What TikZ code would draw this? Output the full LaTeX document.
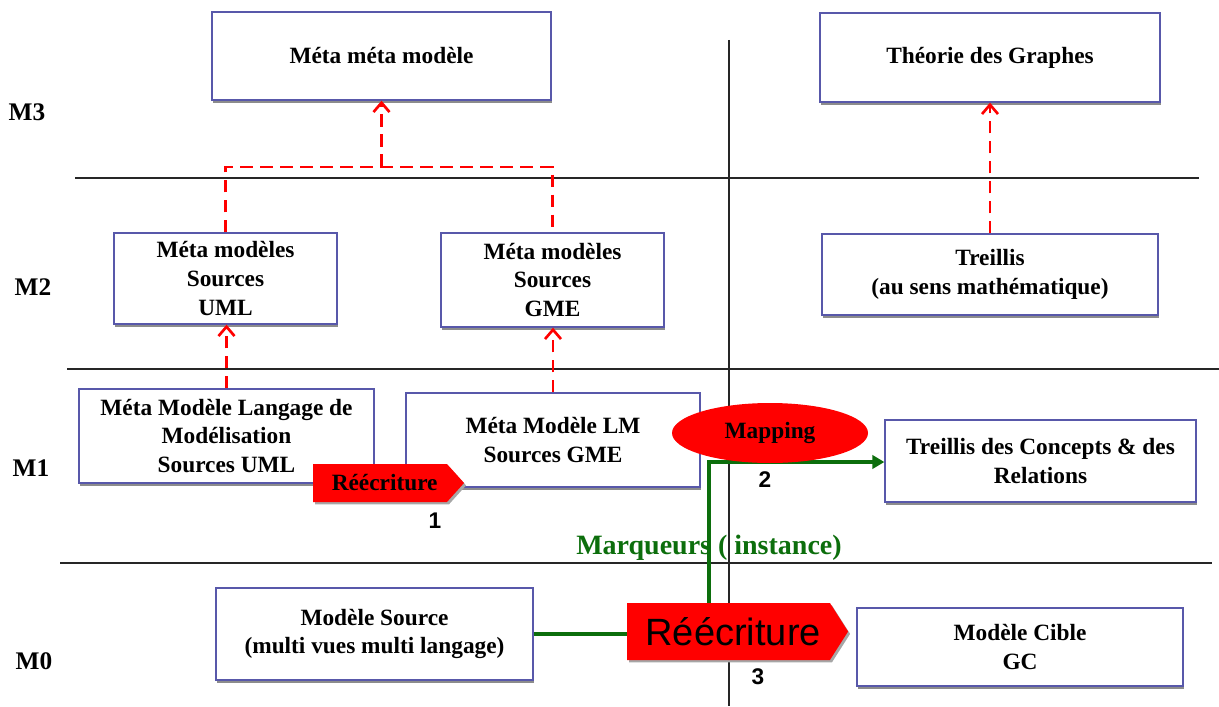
\documentclass[tikz,border=0pt]{standalone}
\usepackage{fontspec}
\setmainfont{Liberation Serif}
\newfontfamily\arialf{Liberation Sans}
\usetikzlibrary{shapes.geometric,shapes.symbols,shadows,arrows.meta}
\definecolor{boxblue}{RGB}{88,88,170}
\definecolor{mygreen}{RGB}{12,110,12}
\begin{document}
\begin{tikzpicture}[x=0.75pt,y=-0.75pt,
  box/.style={draw=boxblue, line width=1pt, fill=white, align=center,
    font=\bfseries\fontsize{17.5}{21.5}\selectfont, inner sep=0pt,
    drop shadow={shadow xshift=0.6pt, shadow yshift=-2pt, fill=black!45, opacity=1}},
  lvl/.style={font=\bfseries\fontsize{19}{22}\selectfont},
  sep/.style={line width=0.9pt, black!85},
  inh/.style={red, line width=2.2pt, dash pattern=on 9.5pt off 5.5pt},
  inharr/.style={inh, -{Straight Barb[length=7pt,width=12pt,line width=2pt]}},
  sig/.style={signal, signal to=east, fill=red, inner sep=0pt,
    drop shadow={shadow xshift=1.5pt, shadow yshift=-1.8pt, fill=black!35, opacity=1}},
  num/.style={font=\arialf\bfseries\fontsize{17}{20}\selectfont},
  grn/.style={mygreen, line width=3pt},
]
\useasboundingbox (0,0) rectangle (1219,706);

% separators
\coordinate (v1) at (729,40);
\coordinate (v2) at (729,706);
\draw[sep] (v1) -- (v2);
\coordinate (h1a) at (75,178);  \coordinate (h1b) at (1199,178);
\coordinate (h2a) at (67,369);  \coordinate (h2b) at (1219,369);
\coordinate (h3a) at (60,563);  \coordinate (h3b) at (1212,563);
\draw[sep] (h1a) -- (h1b);
\draw[sep] (h2a) -- (h2b);
\draw[sep] (h3a) -- (h3b);

% level labels
\node[lvl] (m3) at (27,112) {M3};
\node[lvl] (m2) at (33,287) {M2};
\node[lvl] (m1) at (31,468) {M1};
\node[lvl] (m0) at (34,661) {M0};

% boxes
\node[box, minimum width=254.25pt, minimum height=66pt] (metameta) at (381.5,56) {Méta méta modèle};
\node[box, minimum width=255pt, minimum height=66.75pt] (theorie) at (990,57.5) {Théorie des Graphes};
\node[box, minimum width=167.25pt, minimum height=68.25pt] (umlMM) at (225.5,278.5) {Méta modèles\\Sources\\UML};
\node[box, minimum width=167.25pt, minimum height=70.5pt] (gmeMM) at (552.5,280) {Méta modèles\\Sources\\GME};
\node[box, minimum width=252pt, minimum height=60.75pt] (treillis) at (990,274.5) {Treillis\\(au sens mathématique)};
\node[box, minimum width=221.25pt, minimum height=70.5pt] (mmlang) at (226.5,436) {Méta Modèle Langage de\\Modélisation\\Sources UML};
\node[box, minimum width=220.5pt, minimum height=70.5pt] (mmlm) at (553,440) {Méta Modèle LM\\Sources GME};
\node[box, minimum width=233.25pt, minimum height=61.5pt] (treillisCR) at (1040.5,461) {Treillis des Concepts \& des\\Relations};
\node[box, minimum width=237.75pt, minimum height=69pt] (source) at (374.5,634) {Modèle Source\\(multi vues multi langage)};
\node[box, minimum width=244.5pt, minimum height=58.5pt] (cible) at (1020,647) {Modèle Cible\\GC};

% red dashed inheritance connectors
\coordinate (join) at (381.5,167);
\draw[inh] (umlMM.north) -- (umlMM.north |- join) -- (gmeMM.north |- join) -- (gmeMM.north);
\draw[inharr] (join) -- (metameta.south);
\draw[inharr] (treillis.north) -- (theorie.south);
\draw[inharr] (mmlang.north) -- (mmlang.north |- umlMM.south);
\draw[inharr] (mmlm.north) -- (mmlm.north |- gmeMM.south);

% rewriting signals
\node[sig, signal pointer angle=96, minimum width=113.25pt, minimum height=28.5pt,
  font=\bfseries\fontsize{17.5}{21}\selectfont] (rew1) at (380,483) {\kern7pt Réécriture};
\node[sig, signal pointer angle=115, minimum width=165.75pt, minimum height=42.75pt,
  font=\arialf\fontsize{28.5}{32}\selectfont] (rew3) at (728.5,631.5) {\kern7pt Réécriture};

% green connectors
\coordinate (gcorner) at (709,462);
\draw[grn] (source.east) -- (source.east -| rew3.west);
\draw[grn, -{Triangle[length=9pt,width=10pt]}] (gcorner |- rew3.north) -- (gcorner) -- (gcorner -| treillisCR.west);

% mapping ellipse
\node[ellipse, fill=red, inner sep=0pt, minimum width=147pt, minimum height=45pt,
  font=\bfseries\fontsize{17.5}{21}\selectfont] (mapping) at (770,433) {Mapping};

% labels
\node[font=\bfseries\fontsize{21}{24}\selectfont, text=mygreen] (marq) at (709,548) {Marqueurs ( instance)};
\node[num] (n1) at (435,521) {1};
\node[num] (n2) at (765,480) {2};
\node[num] (n3) at (758,677) {3};
\end{tikzpicture}
\end{document}
